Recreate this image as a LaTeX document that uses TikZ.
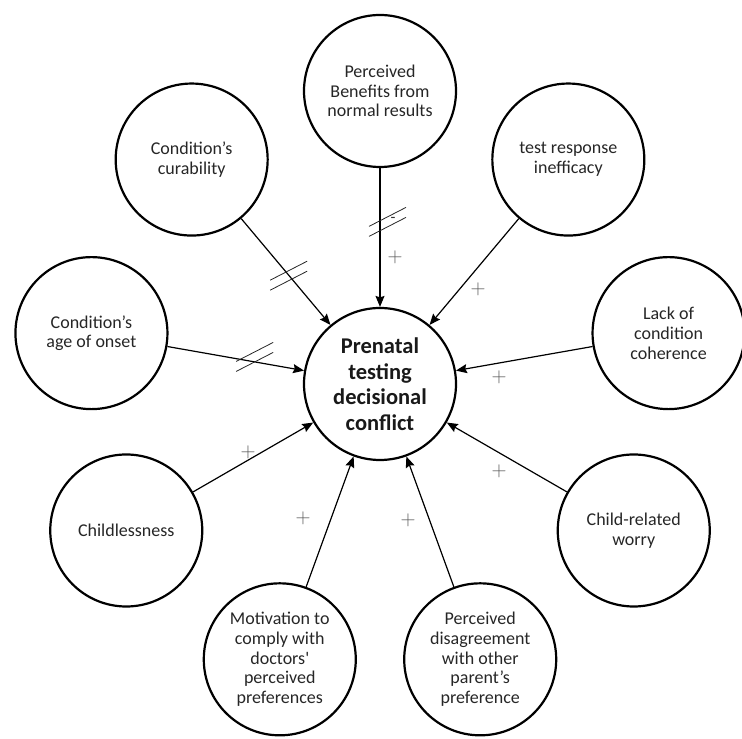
\documentclass[tikz,border=0pt]{standalone}
\usepackage{fontspec}
\setmainfont{Carlito}
\usetikzlibrary{arrows.meta,calc}
\begin{document}
\begin{tikzpicture}[x=1pt,y=1pt,
  factor/.style={circle, draw, line width=2.2pt, minimum size=152pt, inner sep=0pt,
    align=center, font=\fontsize{18}{19.8}\selectfont, text=black!85},
  central/.style={factor, font=\fontsize{22.5}{25.5}\selectfont\bfseries, text=black!90},
  link/.style={line width=1.2pt, -{Stealth[length=11pt,width=9pt,inset=1.5pt]}},
  hatch/.style={line width=0.8pt, black!85},
  sign/.style={inner sep=0pt, text=black!65, font=\fontsize{22}{22}\selectfont}
]
\useasboundingbox (0,0) rectangle (742,739);
\coordinate (O) at (380,355);
\node[central] (c) at (O) {Prenatal\\testing\\decisional\\conflict};
\node[factor] (ben) at ($(O)+(90:293)$) {Perceived\\Benefits from\\normal results};
\node[factor] (cur) at ($(O)+(130:293)$) {Condition’s\\curability};
\node[factor] (ine) at ($(O)+(50:293)$) {test response\\inefficacy};
\node[factor] (age) at ($(O)+(170:293)$) {Condition’s\\age of onset};
\node[factor] (coh) at ($(O)+(10:293)$) {Lack of\\condition\\coherence};
\node[factor] (chl) at ($(O)+(210:293)$) {Childlessness};
\node[factor] (wor) at ($(O)+(330:293)$) {Child-related\\worry};
\node[factor] (mot) at ($(O)+(250:293)$) {Motivation to\\comply with\\doctors\textquotesingle\\perceived\\preferences};
\node[factor] (dis) at ($(O)+(290:293)$) {Perceived\\disagreement\\with other\\parent’s\\preference};

\draw[link] (ben) -- (c) coordinate[pos=0.42] (hb);
\draw[link] (cur) -- (c) coordinate[pos=0.537] (hc);
\draw[link] (age) -- (c) coordinate[pos=0.62] (ha);
\draw[link] (ine) -- (c);
\draw[link] (coh) -- (c);
\draw[link] (chl) -- (c);
\draw[link] (wor) -- (c);
\draw[link] (mot) -- (c);
\draw[link] (dis) -- (c);

% double-stroke marks
\draw[hatch] ($(hb)+(-11,0)$) -- ++(37,19);
\draw[hatch] ($(hb)+(-11,-10)$) -- ++(37,19);
\node[sign, text=black!80, font=\fontsize{16}{16}\selectfont] (mb) at ($(hb)+(13,6)$) {-};
\draw[hatch] ($(hc)+(-19,-4.5)$) -- ++(37,19);
\draw[hatch] ($(hc)+(-19,-14.5)$) -- ++(37,19);
\draw[hatch] ($(ha)+(-16,0)$) -- ++(37,19);
\draw[hatch] ($(ha)+(-16,-10)$) -- ++(37,19);

% plus signs
\node[sign] (p1) at (395,482) {$+$};
\node[sign] (p2) at (478,450) {$+$};
\node[sign] (p3) at (499,362) {$+$};
\node[sign] (p4) at (499,268) {$+$};
\node[sign] (p5) at (408,219) {$+$};
\node[sign] (p6) at (303,221) {$+$};
\node[sign] (p7) at (248,287) {$+$};
\end{tikzpicture}
\end{document}
